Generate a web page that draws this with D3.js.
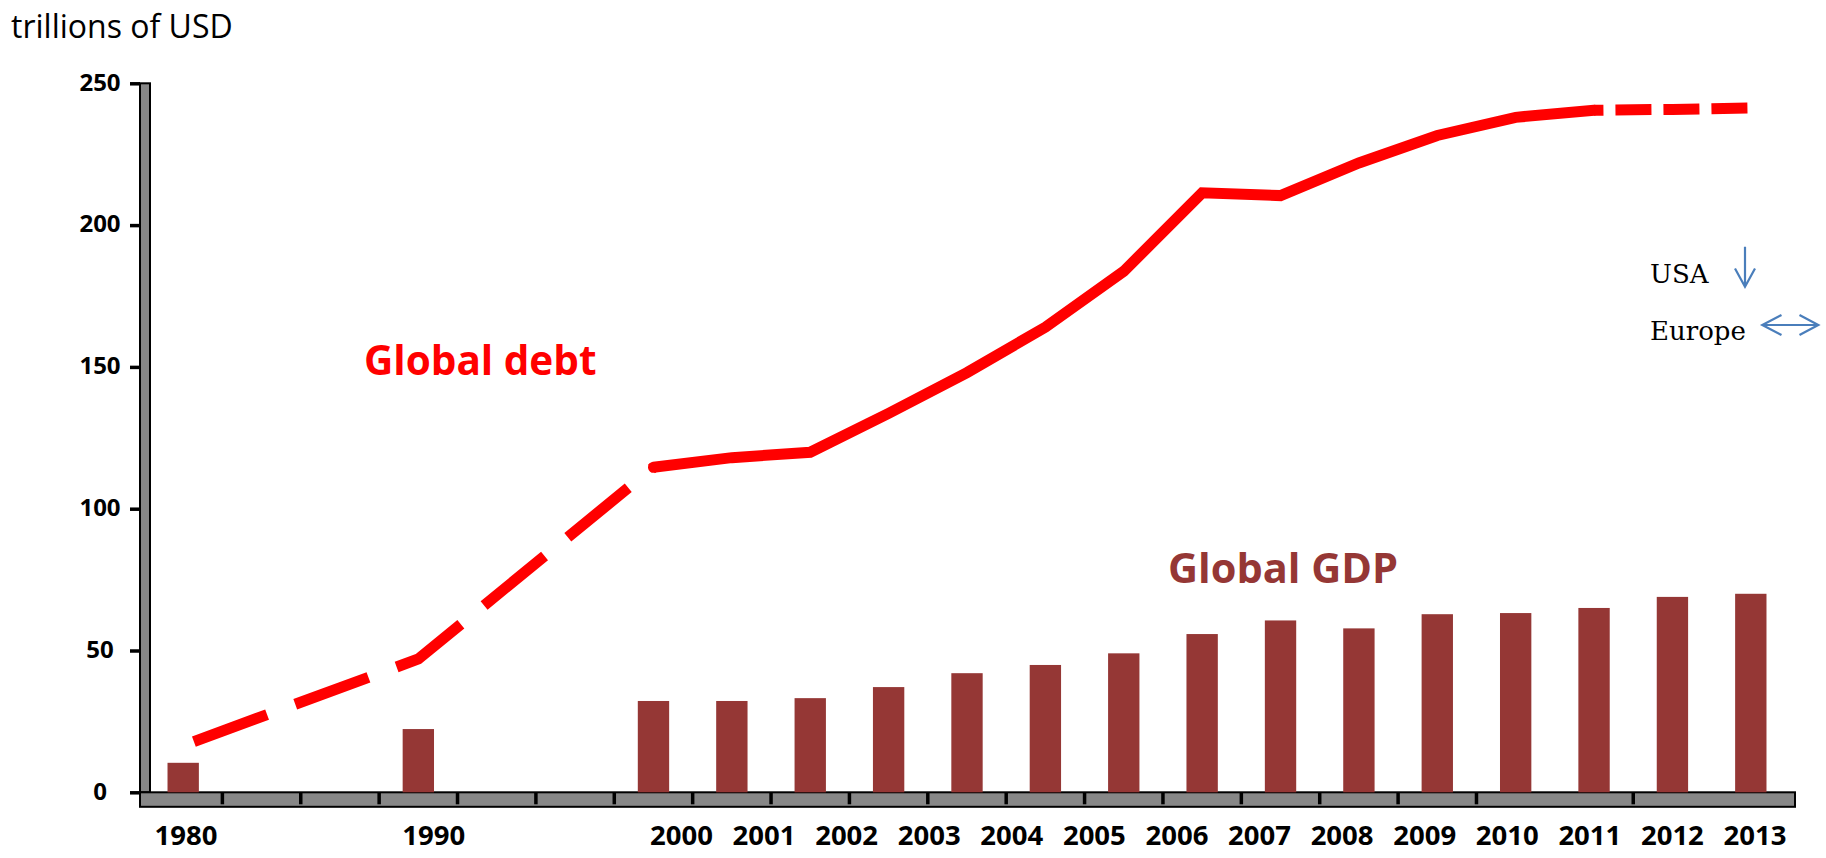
<!DOCTYPE html>
<html>
<head>
<meta charset="utf-8">
<script src="https://cdn.jsdelivr.net/npm/d3@7/dist/d3.min.js"></script>
<style>
  html, body { margin: 0; padding: 0; background: #ffffff; }
  svg { display: block; }
</style>
</head>
<body>
<svg id="chart" width="1826" height="858"></svg>
<script>
// ---------- data ----------
// category slots along the x axis (bars / line points); gap slots carry no data
const slots = ["1980", "gap1", "gap2", "1990", "gap3", "gap4",
  "2000", "2001", "2002", "2003", "2004", "2005", "2006", "2007",
  "2008", "2009", "2010", "2011", "2012", "2013", "2014"];

// Global GDP, trillions of USD
const gdp = [10.4, null, null, 22.3, null, null,
  32.2, 32.2, 33.2, 37.1, 42.0, 44.9, 49.0, 55.8,
  60.6, 57.8, 62.8, 63.2, 65.0, 68.9, 70.0];

// Global debt, trillions of USD
const debt = [16.5, null, null, 47.0, null, null,
  114.6, 118.0, 119.9, 133.6, 148.0, 164.0, 183.7, 211.4,
  210.4, 221.9, 231.6, 238.0, 240.5, 240.8, 241.3];

// year labels printed under the axis (their own evenly spaced row)
const yearLabels = ["1980", "", "", "1990", "", "", "2000", "2001", "2002", "2003",
  "2004", "2005", "2006", "2007", "2008", "2009", "2010", "2011", "2012", "2013"];

// y axis ticks
const yTicks = [0, 50, 100, 150, 200, 250];

// slots whose left boundary carries a tick mark on the floor
const floorTickSlots = slots.slice(1, 18).concat([slots[19]]);

// ---------- drawing ----------
const svg = d3.select("#chart");
svg.append("rect").attr("width", 1826).attr("height", 858).attr("fill", "#ffffff");

const x = d3.scaleBand().domain(slots).range([144, 1790]).paddingInner(0.6).paddingOuter(0.3);
const y = d3.scaleLinear().domain([0, 250]).range([792.3, 83.3]);
const xl = d3.scalePoint().domain(d3.range(yearLabels.length)).range([186, 1755]);

const cx = s => x(s) + x.bandwidth() / 2;
const step = x.step();
const boundary = s => x(s) - step * x.paddingInner() / 2;

const LABEL_FONT = "'Open Sans', 'Liberation Sans', sans-serif";

// y axis "wall"
svg.append("rect")
  .attr("x", 140).attr("y", y(250)).attr("width", 10).attr("height", y(0) - y(250))
  .attr("fill", "#878787").attr("stroke", "#000").attr("stroke-width", 2);

// floor
svg.append("rect")
  .attr("x", 140).attr("y", y(0)).attr("width", 1795 - 140).attr("height", 14.5)
  .attr("fill", "#878787").attr("stroke", "#000").attr("stroke-width", 2);

// y ticks
const yAxis = d3.axisLeft(y).tickValues(yTicks).tickSize(10).tickPadding(0).tickFormat(d3.format("d"));
const gy = svg.append("g").attr("transform", "translate(140,0)").call(yAxis);
gy.select(".domain").remove();
gy.selectAll(".tick line").attr("stroke", "#000").attr("stroke-width", 3.5);
gy.selectAll(".tick text")
  .attr("x", -40).attr("text-anchor", "middle")
  .attr("font-family", LABEL_FONT).attr("font-weight", "bold").attr("font-size", 24)
  .attr("fill", "#000").attr("dy", "0.28em");

// floor ticks
svg.append("g").selectAll("line").data(floorTickSlots).join("line")
  .attr("x1", d => boundary(d)).attr("x2", d => boundary(d))
  .attr("y1", y(0)).attr("y2", y(0) + 12)
  .attr("stroke", "#000").attr("stroke-width", 3.5);

// year labels
svg.append("g").selectAll("text").data(yearLabels.map((t, i) => ({ t, i })).filter(d => d.t !== ""))
  .join("text")
  .attr("x", d => xl(d.i)).attr("y", 845)
  .attr("text-anchor", "middle")
  .attr("font-family", LABEL_FONT).attr("font-weight", "bold").attr("font-size", 27.5)
  .attr("fill", "#000")
  .text(d => d.t);

// GDP bars
const barData = slots.map((s, i) => ({ s, v: gdp[i] })).filter(d => d.v != null);
svg.append("g").selectAll("rect").data(barData).join("rect")
  .attr("x", d => x(d.s)).attr("width", x.bandwidth())
  .attr("y", d => y(d.v)).attr("height", d => y(0) - y(d.v))
  .attr("fill", "#953735");

// debt line
const pts = slots.map((s, i) => ({ s, v: debt[i], i })).filter(d => d.v != null);
const line = d3.line().x(d => cx(d.s)).y(d => y(d.v));
const early = pts.filter(d => d.i <= 6);
const mid = pts.filter(d => d.i >= 6 && d.i <= 18);
const late = pts.filter(d => d.i >= 18);

svg.append("path").datum(early).attr("d", line)
  .attr("fill", "none").attr("stroke", "#ff0000").attr("stroke-width", 11)
  .attr("stroke-dasharray", "78,30").attr("stroke-dashoffset", 96.6)
  .attr("stroke-linejoin", "miter");

svg.append("path").datum(mid).attr("d", line)
  .attr("fill", "none").attr("stroke", "#ff0000").attr("stroke-width", 11)
  .attr("stroke-linecap", "round").attr("stroke-linejoin", "miter");

svg.append("path").datum(late).attr("d", line)
  .attr("fill", "none").attr("stroke", "#ff0000").attr("stroke-width", 11)
  .attr("stroke-dasharray", "36,12").attr("stroke-dashoffset", 26.6);

// series labels
svg.append("text").attr("x", 364).attr("y", 375)
  .attr("font-family", LABEL_FONT).attr("font-weight", "bold").attr("font-size", 40.5)
  .attr("fill", "#ff0000").text("Global debt");

svg.append("text").attr("x", 1168).attr("y", 583)
  .attr("font-family", LABEL_FONT).attr("font-weight", "bold").attr("font-size", 41.5)
  .attr("fill", "#953735").text("Global GDP");

// unit label
svg.append("text").attr("x", 11).attr("y", 38)
  .attr("font-family", LABEL_FONT).attr("font-size", 32)
  .attr("fill", "#000").text("trillions of USD");

// annotation: USA / Europe with arrows
const SERIF = "'DejaVu Serif', 'Liberation Serif', serif";
svg.append("text").attr("x", 1650).attr("y", 283)
  .attr("font-family", SERIF).attr("font-size", 26).attr("fill", "#000").text("USA");
svg.append("text").attr("x", 1650).attr("y", 340)
  .attr("font-family", SERIF).attr("font-size", 26).attr("fill", "#000").text("Europe");

const arrowColor = "#4a7ebb";
const ann = svg.append("g").attr("fill", "none").attr("stroke", arrowColor).attr("stroke-width", 2.2);
ann.append("path").attr("d", "M1745,246.7 L1745,286.7 M1735,268.5 L1745,286.7 L1755,268.5");
ann.append("path").attr("d", "M1762.3,325 L1818.3,325 M1781.5,315 L1762.3,325 L1781.5,335 M1799.5,315 L1818.3,325 L1799.5,335");
</script>
</body>
</html>
